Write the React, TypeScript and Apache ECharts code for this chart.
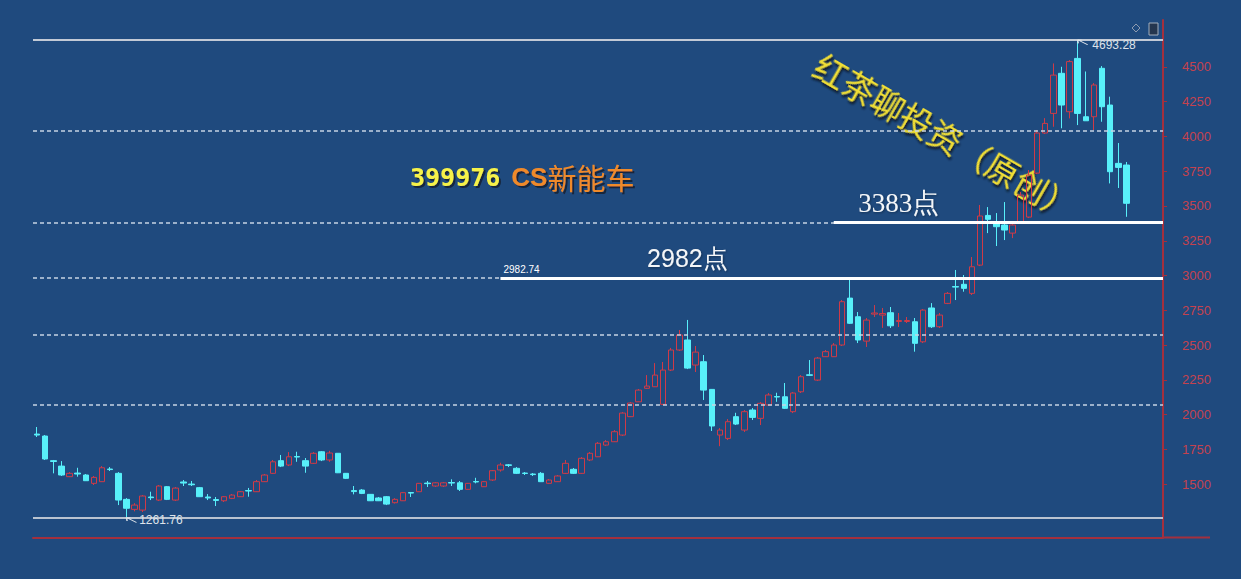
import React, { useEffect, useRef } from 'react';
import * as echarts from 'echarts';

// ---------- data ----------
// weekly candles of 399976 CS新能车: [open, close, low, high]
const weeklyOHLC: [number, number, number, number][] = [
  [1861, 1854, 1840, 1912], [1847, 1682, 1675, 1854], [1670, 1664, 1579, 1675], [1631, 1567, 1560, 1667],
  [1555, 1579, 1552, 1588], [1581, 1574, 1555, 1619], [1567, 1526, 1524, 1574], [1507, 1550, 1495, 1560],
  [1519, 1619, 1517, 1631], [1610, 1606, 1596, 1624], [1579, 1387, 1351, 1588], [1392, 1328, 1261.76, 1401],
  [1320, 1351, 1306, 1365], [1315, 1416, 1301, 1423], [1409, 1404, 1387, 1447], [1387, 1488, 1380, 1495],
  [1483, 1392, 1387, 1488], [1387, 1473, 1380, 1481], [1517, 1509, 1488, 1531], [1502, 1497, 1488, 1524],
  [1476, 1411, 1409, 1481], [1409, 1402, 1387, 1430], [1391, 1384, 1344, 1409], [1382, 1411, 1373, 1416],
  [1399, 1423, 1394, 1430], [1411, 1447, 1409, 1452], [1455, 1452, 1411, 1474], [1447, 1519, 1445, 1531],
  [1519, 1567, 1517, 1574], [1579, 1662, 1574, 1675], [1670, 1631, 1624, 1711], [1639, 1698, 1631, 1732],
  [1700, 1696, 1662, 1734], [1670, 1631, 1583, 1689], [1651, 1723, 1646, 1732], [1734, 1675, 1667, 1739],
  [1675, 1725, 1662, 1741], [1723, 1583, 1581, 1725], [1579, 1543, 1538, 1581], [1455, 1448, 1428, 1488],
  [1459, 1435, 1430, 1466], [1428, 1382, 1380, 1430], [1402, 1382, 1380, 1409], [1411, 1358, 1351, 1416],
  [1368, 1392, 1362, 1401], [1382, 1440, 1380, 1445], [1441, 1437, 1409, 1445], [1447, 1507, 1445, 1509],
  [1509, 1505, 1481, 1524], [1488, 1511, 1481, 1517], [1488, 1511, 1481, 1517], [1513, 1509, 1488, 1536],
  [1511, 1464, 1452, 1524], [1464, 1507, 1459, 1509], [1520, 1517, 1507, 1547], [1483, 1519, 1481, 1524],
  [1531, 1598, 1524, 1603], [1603, 1639, 1591, 1655], [1640, 1636, 1624, 1646], [1615, 1579, 1574, 1624],
  [1581, 1578, 1567, 1588], [1574, 1570, 1560, 1581], [1579, 1519, 1517, 1588], [1507, 1531, 1502, 1538],
  [1519, 1560, 1517, 1567], [1579, 1651, 1574, 1675], [1608, 1579, 1574, 1617], [1579, 1687, 1574, 1696],
  [1675, 1723, 1667, 1732], [1698, 1795, 1696, 1804], [1782, 1806, 1775, 1818], [1806, 1878, 1804, 1890],
  [1854, 2012, 1847, 2019], [1986, 2084, 1983, 2091], [2093, 2177, 2091, 2185], [2190, 2206, 2185, 2285],
  [2201, 2285, 2199, 2371], [2075, 2321, 2070, 2379], [2321, 2465, 2314, 2480], [2465, 2573, 2458, 2609],
  [2537, 2335, 2328, 2681], [2357, 2450, 2307, 2494], [2381, 2177, 2106, 2429], [2182, 1919, 1883, 2185],
  [1854, 1890, 1774, 1904], [1830, 1950, 1818, 1969], [1986, 1933, 1926, 2014], [1890, 2022, 1876, 2034],
  [2034, 1981, 1962, 2048], [1974, 2082, 1926, 2091], [2070, 2142, 2063, 2156], [2131, 2127, 2093, 2158],
  [2129, 2046, 2041, 2228], [2022, 2156, 2012, 2163], [2165, 2273, 2156, 2285], [2287, 2283, 2278, 2393],
  [2249, 2407, 2242, 2415], [2417, 2453, 2415, 2465], [2417, 2501, 2415, 2515], [2501, 2812, 2494, 2824],
  [2838, 2657, 2652, 2975], [2704, 2537, 2515, 2738], [2529, 2680, 2487, 2695], [2723, 2731, 2702, 2788],
  [2716, 2727, 2624, 2767], [2733, 2639, 2623, 2774], [2670, 2677, 2630, 2731], [2670, 2677, 2659, 2702],
  [2668, 2513, 2453, 2695], [2524, 2752, 2515, 2759], [2767, 2632, 2623, 2802], [2632, 2716, 2623, 2731],
  [2800, 2872, 2795, 2882], [2921, 2917, 2824, 3040], [2937, 2908, 2884, 3004], [2872, 3063, 2860, 3133],
  [3075, 3428, 3068, 3507], [3432, 3404, 3305, 3492], [3375, 3351, 3212, 3449], [3363, 3327, 3255, 3528],
  [3305, 3363, 3269, 3377], [3384, 3578, 3377, 3600], [3420, 3722, 3413, 3758], [3736, 4024, 3729, 4046],
  [4024, 4093, 4017, 4131], [4165, 4440, 4069, 4524], [4453, 4225, 4058, 4500], [4177, 4537, 4129, 4548],
  [4560, 4165, 4081, 4693.28], [4141, 4112, 4112, 4466], [4141, 4369, 4045, 4383], [4489, 4213, 4105, 4505],
  [4225, 3746, 3662, 4285], [3806, 3777, 3629, 3952], [3794, 3519, 3422, 3816],
];

// week slots on the x axis (the last few are still empty)
const categories = Array.from({ length: 139 }, (_, i) => `W${i + 1}`);

// golden-section levels drawn as dashed lines
const fibLevels = [2071.59, 2572.59, 2982.74, 3382.44, 4037.84];

// highlighted support levels: value, first week of the line, small tag, big caption, week of caption
const keyLevelValues = [2982.74, 3382.44];
const keyLevelStart = [57, 98];
const keyLevelTags = ['2982.74', ''];
const keyLevelTitles = ['2982点', '3383点'];
const keyLevelTitleAt = [80, 106];

const yTicks = [1500, 1750, 2000, 2250, 2500, 2750, 3000, 3250, 3500, 3750, 4000, 4250, 4500];
const Y_MIN = 1118;
const Y_MAX = 4836;

// ---------- layout / style ----------
const W = 1241;
const H = 579;
const GRID = { left: 33, right: 78, top: 20, bottom: 41.5 };
const PLOT_RIGHT = W - GRID.right;
const PLOT_BOTTOM = H - GRID.bottom;

const BG = '#1f4a7e';
const UP = '#cf3a47';
const DOWN = '#58f0fa';
const AXIS = '#a3303e';
const AXIS_LABEL = '#c4424e';
const ARROW = 'path://M0,0L10,5M0,0L4,0.3M0,0L0.6,3.5';

function buildOption(): any {
  const keyTitleFonts = ['Liberation Sans', 'Liberation Serif'];
  const keyTitleSizes = [25, 27];
  const keyTitleDist = [7, 5];
  const titleShadow = {
    textShadowColor: '#14263c',
    textShadowOffsetX: 2,
    textShadowOffsetY: 2,
    textShadowBlur: 1,
  };

  return {
    animation: false,
    backgroundColor: BG,
    grid: { ...GRID, containLabel: false, outerBoundsMode: 'none' },
    xAxis: {
      type: 'category',
      data: categories,
      boundaryGap: true,
      axisLine: { show: true, lineStyle: { color: AXIS, width: 2 } },
      axisTick: { show: false },
      axisLabel: { show: false },
      splitLine: { show: false },
    },
    yAxis: {
      type: 'value',
      position: 'right',
      min: Y_MIN,
      max: Y_MAX,
      splitLine: { show: false },
      axisLine: { show: true, lineStyle: { color: AXIS, width: 2 } },
      axisTick: { show: true, customValues: yTicks, length: 4, lineStyle: { color: AXIS, width: 1 } },
      axisLabel: {
        customValues: yTicks,
        formatter: (v: number) => String(v),
        color: AXIS_LABEL,
        fontSize: 13,
        margin: 19,
        fontFamily: 'Liberation Sans',
      },
    },
    series: [
      {
        type: 'candlestick',
        data: weeklyOHLC,
        barWidth: 6,
        itemStyle: {
          color: 'transparent',
          color0: DOWN,
          borderColor: UP,
          borderColor0: DOWN,
          borderWidth: 1,
        },
        markLine: {
          silent: true,
          symbol: ['none', 'none'],
          label: { show: false },
          data: [
            ...fibLevels.map((v) => ({
              yAxis: v,
              lineStyle: { type: [4, 3], color: '#c6d3e4', width: 1.5 },
              label: { show: false },
            })),
            {
              type: 'max',
              valueDim: 'highest',
              lineStyle: { type: 'solid', color: '#c2cad6', width: 2 },
              label: { show: false },
            },
            {
              type: 'min',
              valueDim: 'lowest',
              lineStyle: { type: 'solid', color: '#b9c3d0', width: 2 },
              label: { show: false },
            },
            ...keyLevelValues.map((v, i) => [
              {
                coord: [keyLevelStart[i], v],
                lineStyle: { type: 'solid', color: '#ffffff', width: 3 },
                label: {
                  show: !!keyLevelTags[i],
                  position: 'insideStartTop',
                  formatter: keyLevelTags[i],
                  color: '#ffffff',
                  fontSize: 10,
                  distance: 3,
                  fontFamily: 'Liberation Sans',
                },
              },
              { yAxis: v, x: PLOT_RIGHT },
            ]),
          ],
        },
        markPoint: {
          silent: true,
          symbol: 'circle',
          data: [
            {
              type: 'max',
              valueDim: 'highest',
              symbol: ARROW,
              symbolSize: [10, 5],
              symbolOffset: [5, 2.5],
              itemStyle: { color: 'transparent', borderColor: '#dfe4ea', borderWidth: 1 },
              label: {
                show: true,
                position: 'right',
                distance: 4,
                offset: [0, 3],
                formatter: '{c}',
                color: '#dfe4ea',
                fontSize: 12,
                fontFamily: 'Liberation Sans',
              },
            },
            {
              type: 'min',
              valueDim: 'lowest',
              symbol: ARROW,
              symbolSize: [10, 5],
              symbolOffset: [5, 2.5],
              itemStyle: { color: 'transparent', borderColor: '#dfe4ea', borderWidth: 1 },
              label: {
                show: true,
                position: 'right',
                distance: 2,
                offset: [0, 0],
                formatter: '{c}',
                color: '#dfe4ea',
                fontSize: 12,
                fontFamily: 'Liberation Sans',
              },
            },
            ...keyLevelValues.map((v, i) => ({
              coord: [keyLevelTitleAt[i], v],
              symbol: 'circle',
              symbolSize: 1,
              itemStyle: { color: 'transparent' },
              label: {
                show: true,
                position: 'top',
                distance: keyTitleDist[i],
                formatter: keyLevelTitles[i],
                color: '#f4f6f8',
                fontSize: keyTitleSizes[i],
                fontFamily: keyTitleFonts[i],
                textShadowColor: 'rgba(0,0,0,0.35)',
                textShadowBlur: 2,
                textShadowOffsetX: 1,
                textShadowOffsetY: 1,
              },
            })),
          ],
        },
      },
    ],
    graphic: [
      {
        type: 'text',
        x: 410,
        y: 177,
        silent: true,
        style: {
          text: '{a|399976}{b|CS}{c|新能车}',
          align: 'left',
          verticalAlign: 'middle',
          rich: {
            a: {
              fontFamily: 'DejaVu Sans Mono',
              fontWeight: 'bold',
              fontSize: 25,
              fill: '#f6f24a',
              padding: [0, 11, 0, 0],
              ...titleShadow,
            },
            b: {
              fontFamily: 'Liberation Sans',
              fontWeight: 'bold',
              fontSize: 26,
              fill: '#ef8a2c',
              ...titleShadow,
            },
            c: {
              fontFamily: 'Noto Sans CJK SC',
              fontSize: 29,
              fill: '#ef8a2c',
              ...titleShadow,
            },
          },
        },
      },
      {
        type: 'text',
        x: 946,
        y: 136,
        rotation: -0.522,
        silent: true,
        style: {
          text: '红茶聊投资（原创）',
          align: 'center',
          verticalAlign: 'middle',
          fontFamily: 'Noto Sans CJK SC',
          fontWeight: 'normal',
          fontSize: 33,
          fill: '#f0de36',
          textShadowColor: '#101820',
          textShadowBlur: 2,
          textShadowOffsetX: 2,
          textShadowOffsetY: 2,
        },
      },
      {
        type: 'polygon',
        silent: true,
        shape: { points: [[1136, 24], [1140, 28], [1136, 32], [1132, 28]] },
        style: { fill: 'none', stroke: '#8e9bb0', lineWidth: 1 },
      },
      {
        type: 'rect',
        silent: true,
        shape: { x: 1149, y: 23, width: 9, height: 12 },
        style: { fill: '#24364f', stroke: '#a3aebd', lineWidth: 1 },
      },
      {
        type: 'line',
        silent: true,
        shape: { x1: PLOT_RIGHT, y1: PLOT_BOTTOM, x2: PLOT_RIGHT + 47, y2: PLOT_BOTTOM },
        style: { stroke: AXIS, lineWidth: 2 },
      },
    ],
  };
}

export default function App() {
  const ref = useRef<HTMLDivElement>(null);
  useEffect(() => {
    if (!ref.current) return;
    const chart = echarts.init(ref.current, null, { renderer: 'svg' });
    chart.setOption(buildOption());
    return () => chart.dispose();
  }, []);
  return (
    <div
      ref={ref}
      style={{ position: 'fixed', left: 0, top: 0, width: W, height: H, background: BG }}
    />
  );
}
